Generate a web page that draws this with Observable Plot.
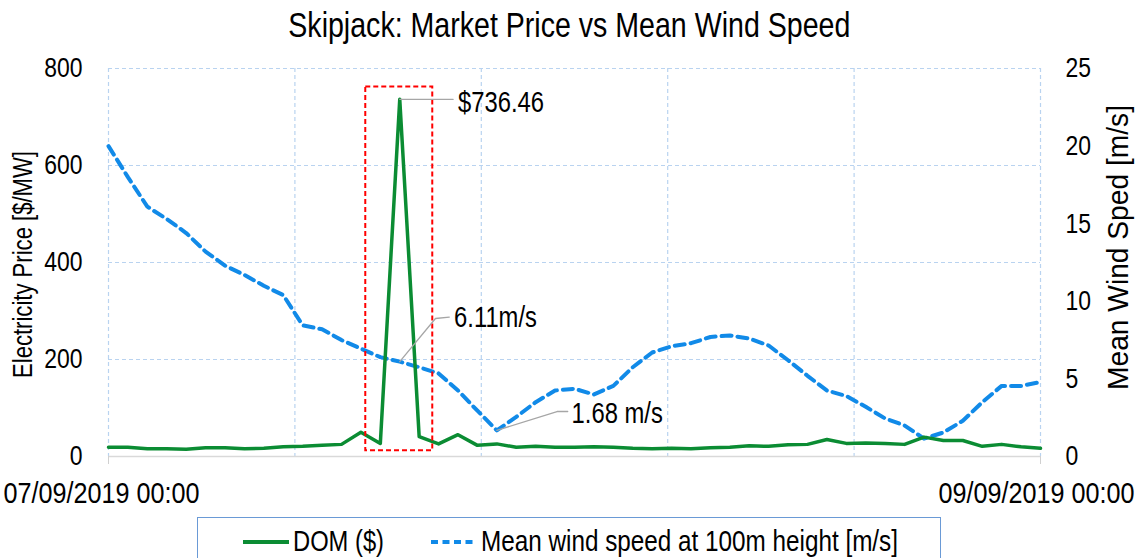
<!DOCTYPE html>
<html><head><meta charset="utf-8">
<script src="https://cdn.jsdelivr.net/npm/d3@7"></script>
<script src="https://cdn.jsdelivr.net/npm/@observablehq/plot@0.6"></script>
<style>
body{margin:0;background:#fff;font-family:"Liberation Sans",Arial,sans-serif;color:#000;position:relative;width:1139px;height:558px;overflow:hidden;}
#title{position:absolute;left:0;top:0;width:1139px;height:48px;line-height:50px;font-size:35px;text-align:center;}
#title span{display:inline-block;transform-origin:50% 50%;}
#chart{position:absolute;left:0;top:48px;}
#legend{position:absolute;left:197px;top:517px;width:744px;height:50px;border:1.5px solid #6a9ad6;box-sizing:border-box;}
.lg{position:absolute;top:0;height:46px;line-height:46px;font-size:30px;white-space:nowrap;transform-origin:0 50%;}
.sw{position:absolute;top:21px;}
</style></head>
<body>
<div id="title"><span id="titleText"></span></div>
<div id="chart"></div>
<div id="legend"></div>
<script>
const FONT = '"Liberation Sans",Arial,sans-serif';
// ---- data ----
const hours = d3.range(49); // hourly, 07/09/2019 00:00 .. 09/09/2019 00:00
const domPrice = [19,19,16,16,15,18,18,16,17,20,21,23,25,50,27,736.46,41,26,45,23,26,19,21,19,19,20,19,17,16,17,16,18,19,22,21,24,25,35,27,28,27,25,40,33,33,21,25,20,17];
const windSpeed = [20.0,18.0,16.1,15.3,14.4,13.2,12.3,11.7,11.0,10.4,8.45,8.2,7.5,6.95,6.4,6.11,5.75,5.35,4.25,2.95,1.68,2.55,3.5,4.25,4.36,4.0,4.55,5.75,6.7,7.1,7.3,7.7,7.8,7.6,7.15,6.2,5.2,4.25,3.9,3.2,2.45,2.0,1.15,1.55,2.3,3.5,4.55,4.55,4.8];
const priceTicks = [0,200,400,600,800];
const windTicks = [0,5,10,15,20,25];
const xTickHours = [0,48];
const xTickLabels = ["07/09/2019 00:00","09/09/2019 00:00"];
const seriesNames = ["DOM ($)","Mean wind speed at 100m height [m/s]"];
const titleText = "Skipjack: Market Price vs Mean Wind Speed";
const leftTitle = "Electricity Price [$/MW]";
const rightTitle = "Mean Wind Sped [m/s]";
const annoLabels = ["$736.46","6.11m/s","1.68 m/s"];

document.getElementById("titleText").textContent = titleText;

const priceMax = 800, windMax = 25, k = priceMax / windMax;
const data = hours.map((h,i)=>({hour:h, price:domPrice[i], wind:windSpeed[i]*k}));
const xGrid = d3.range(6).map(i => i*48/5);

// annotation anchors (from data) + leader offsets
const spike = d3.maxIndex(domPrice);
const low = d3.minIndex(windSpeed.slice(0,30));
const leaders = [
  [[spike, domPrice[spike]], [spike+2.75, domPrice[spike]]],
  [[spike, windSpeed[spike]*k], [spike+1.84, windSpeed[spike]*k+89], [spike+2.55, windSpeed[spike]*k+92]],
  [[low, windSpeed[low]*k], [low+3.1, windSpeed[low]*k+39], [low+3.65, windSpeed[low]*k+39]]
];
const leaderPts = leaders.flatMap((pts,j)=>pts.map(p=>({id:j,x:p[0],y:p[1]})));
const annoText = [
  {t:annoLabels[0], x:spike+3.0, y:domPrice[spike]-8},
  {t:annoLabels[1], x:spike+2.8, y:windSpeed[spike]*k+91},
  {t:annoLabels[2], x:low+3.85, y:windSpeed[low]*k+35}
];
const box = [{x1:spike-1.75, x2:spike+1.7, y1:12, y2:762}];

const gridStyle = {stroke:"#b9d3f0", strokeOpacity:1, strokeWidth:1.2, strokeDasharray:"4,3"};

const plot = Plot.plot({
  width:1139, height:462,
  marginLeft:108, marginRight:99, marginTop:20, marginBottom:54,
  style:{fontFamily:FONT, fontSize:"28px", background:"transparent", color:"#000", overflow:"visible"},
  x:{type:"linear", domain:[0,48]},
  y:{domain:[0,800]},
  marks:[
    Plot.gridY({ticks:[200,400,600,800], ...gridStyle}),
    Plot.gridX({ticks:xGrid, ...gridStyle}),
    Plot.ruleY([0], {stroke:"#d9d9d9", strokeWidth:1.5}),
    Plot.line(data, {x:"hour", y:"wind", stroke:"#118ae8", strokeWidth:4, strokeDasharray:"10,6"}),
    Plot.line(data, {x:"hour", y:"price", stroke:"#0b8c33", strokeWidth:3.5}),
    Plot.rect(box, {x1:"x1", x2:"x2", y1:"y1", y2:"y2", fill:"none", stroke:"#ff0000", strokeWidth:2, strokeDasharray:"5,3"}),
    Plot.line(leaderPts, {x:"x", y:"y", z:"id", stroke:"#a6a6a6", strokeWidth:1.3}),
    Plot.text(annoText, {x:"x", y:"y", text:"t", textAnchor:"start", fontSize:29, fill:"#000"}),
    Plot.axisY({anchor:"left", ticks:priceTicks, tickSize:0, tickPadding:26, label:null, fontSize:28}),
    Plot.axisY({anchor:"right", ticks:windTicks.map(v=>v*k), tickFormat:d=>String(Math.round(d/k)), tickSize:0, tickPadding:25, label:null, fontSize:28}),
    Plot.axisX({ticks:xTickHours, tickFormat:()=>"", tickSize:8, stroke:"#d0d0d0", label:null}),
    Plot.text([xTickLabels[0]], {x:[xTickHours[0]], frameAnchor:"bottom", lineAnchor:"middle", textAnchor:"start", dx:-105, dy:37, fontSize:30, fill:"#000"}),
    Plot.text([xTickLabels[1]], {x:[xTickHours[1]], frameAnchor:"bottom", lineAnchor:"middle", textAnchor:"end", dx:94, dy:37, fontSize:30, fill:"#000"}),
    Plot.text([leftTitle], {frameAnchor:"left", textAnchor:"middle", rotate:-90, dx:-85, dy:2, fontSize:27, fill:"#000"}),
    Plot.text([rightTitle], {frameAnchor:"right", textAnchor:"middle", rotate:-90, dx:78, dy:-15, fontSize:29, fill:"#000"})
  ]
});
document.getElementById("chart").appendChild(plot);

// narrow the Arial-metric glyphs to match the condensed face of the original
plot.querySelectorAll("text").forEach(t => {
  const len = t.getComputedTextLength();
  if (!len) return;
  let target = len * 0.82;
  const s = t.textContent;
  if (s === leftTitle) target = 227;
  if (s === rightTitle) target = 285;
  if (xTickLabels.includes(s)) target = 196;
  t.setAttribute("textLength", target.toFixed(1));
  t.setAttribute("lengthAdjust", "spacingAndGlyphs");
});

// title
const ts = document.getElementById("titleText");
ts.style.transform = `scaleX(${562 / ts.getBoundingClientRect().width})`;

// legend
const lg = document.getElementById("legend");
lg.innerHTML = `
<svg class="sw" style="left:45px" width="46" height="6"><line x1="0" y1="3" x2="46" y2="3" stroke="#0b8c33" stroke-width="4"/></svg>
<div class="lg" id="lg0" style="left:95px">${seriesNames[0]}</div>
<svg class="sw" style="left:233px" width="46" height="6"><line x1="0" y1="3" x2="46" y2="3" stroke="#118ae8" stroke-width="4" stroke-dasharray="7,4.5"/></svg>
<div class="lg" id="lg1" style="left:283px">${seriesNames[1]}</div>`;
const l0 = document.getElementById("lg0"), l1 = document.getElementById("lg1");
l0.style.transform = `scaleX(${91 / l0.getBoundingClientRect().width})`;
l1.style.transform = `scaleX(${417 / l1.getBoundingClientRect().width})`;
</script>
</body></html>
